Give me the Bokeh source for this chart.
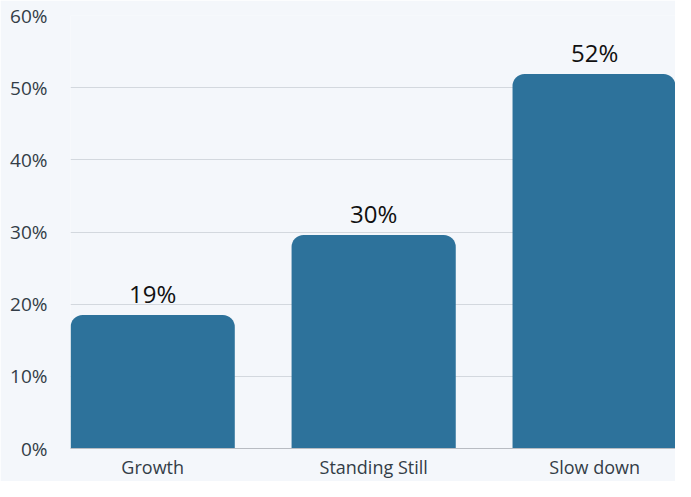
from bokeh.plotting import figure
from bokeh.models import ColumnDataSource, Range1d, FixedTicker, CustomJSTickFormatter
from bokeh.embed import file_html
from bokeh.resources import INLINE
from bokeh.core.properties import value

categories = ["Growth", "Standing Still", "Slow down"]
values = [18.5, 29.6, 51.9]
labels = ["19%", "30%", "52%"]
y_ticks = [0, 10, 20, 30, 40, 50, 60]

xs = list(range(len(categories)))
src = ColumnDataSource(dict(x=xs, top=values, label=labels))

BG = "#f4f7fb"
FONT = "Open Sans"

p = figure(width=675, height=481, output_backend="svg", toolbar_location=None,
           x_range=Range1d(-0.372, 2.366), y_range=Range1d(0, 60),
           min_border_left=70, min_border_right=0, min_border_top=15, min_border_bottom=30)
p.background_fill_color = BG
p.border_fill_color = BG
p.outline_line_color = None

p.vbar(x="x", top="top", width=0.743, bottom=0, source=src, fill_color="#2d729b",
       line_color=None, border_radius=(12, 12, 0, 0))
p.text(x="x", y="top", text="label", source=src, text_align="center", text_baseline="bottom",
       y_offset=-5, text_font=value(FONT), text_font_size="24px", text_color="#111111")

p.yaxis.ticker = FixedTicker(ticks=y_ticks)
p.yaxis.formatter = CustomJSTickFormatter(code="return tick + '%';")
p.yaxis.axis_line_color = None
p.yaxis.major_tick_line_color = None
p.yaxis.minor_tick_line_color = None
p.yaxis.major_label_standoff = 17
p.yaxis.major_label_text_font = FONT
p.yaxis.major_label_text_font_size = "19px"
p.yaxis.major_label_text_color = "#333d47"

p.xaxis.ticker = FixedTicker(ticks=xs)
p.xaxis.major_label_overrides = {i: c for i, c in enumerate(categories)}
p.xaxis.axis_line_color = "#b8bcc2"
p.xaxis.major_tick_line_color = None
p.xaxis.minor_tick_line_color = None
p.xaxis.major_label_standoff = 0
p.xaxis.major_label_text_font = FONT
p.xaxis.major_label_text_font_size = "18px"
p.xaxis.major_label_text_color = "#333d47"

p.xgrid.grid_line_color = None
p.ygrid.grid_line_color = "#d3d8de"
p.ygrid.ticker = FixedTicker(ticks=y_ticks)

open("out.html", "w").write(file_html(p, INLINE))
